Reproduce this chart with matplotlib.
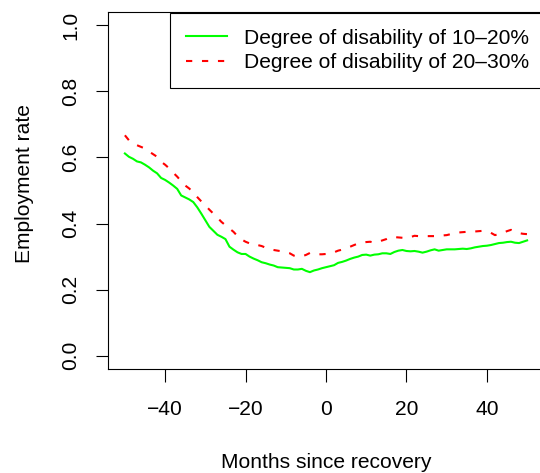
import matplotlib
matplotlib.use("Agg")
import matplotlib.pyplot as plt

plt.rcParams['font.family'] = ['Liberation Sans', 'DejaVu Sans']
plt.rcParams['lines.scale_dashes'] = False

# months since recovery
months = list(range(-50, 51))

# employment rate, degree of disability 10-20%
rate_10_20 = [
    0.612, 0.602, 0.596, 0.588, 0.585, 0.578, 0.570, 0.560, 0.552, 0.538,
    0.532, 0.524, 0.515, 0.505, 0.485, 0.479, 0.473, 0.465, 0.449, 0.430,
    0.410, 0.390, 0.378, 0.366, 0.360, 0.353, 0.330, 0.321, 0.313, 0.308,
    0.308, 0.300, 0.294, 0.289, 0.283, 0.280, 0.276, 0.273, 0.268, 0.267,
    0.266, 0.265, 0.261, 0.261, 0.263, 0.257, 0.253, 0.258, 0.261, 0.265,
    0.268, 0.271, 0.274, 0.281, 0.284, 0.288, 0.293, 0.297, 0.300, 0.305,
    0.306, 0.303, 0.306, 0.307, 0.310, 0.310, 0.308, 0.314, 0.318, 0.320,
    0.317, 0.316, 0.317, 0.315, 0.312, 0.315, 0.319, 0.322, 0.318, 0.320,
    0.322, 0.322, 0.322, 0.323, 0.324, 0.323, 0.325, 0.328, 0.330, 0.332,
    0.333, 0.335, 0.338, 0.341, 0.342, 0.344, 0.345, 0.342, 0.341, 0.345,
    0.349,
]

# employment rate, degree of disability 20-30%
rate_20_30 = [
    0.667, 0.652, 0.645, 0.637, 0.632, 0.627, 0.618, 0.610, 0.602, 0.587,
    0.578, 0.567, 0.554, 0.542, 0.528, 0.515, 0.506, 0.494, 0.480, 0.467,
    0.455, 0.442, 0.430, 0.418, 0.405, 0.395, 0.385, 0.375, 0.362, 0.352,
    0.345, 0.340, 0.335, 0.335, 0.332, 0.327, 0.322, 0.320, 0.318, 0.316,
    0.313, 0.310, 0.303, 0.300, 0.301, 0.305, 0.311, 0.311, 0.307, 0.307,
    0.308, 0.311, 0.313, 0.318, 0.321, 0.325, 0.330, 0.335, 0.340, 0.342,
    0.344, 0.345, 0.342, 0.345, 0.349, 0.353, 0.359, 0.359, 0.358, 0.357,
    0.356, 0.359, 0.363, 0.362, 0.362, 0.362, 0.362, 0.362, 0.362, 0.364,
    0.365, 0.368, 0.370, 0.373, 0.374, 0.375, 0.376, 0.376, 0.377, 0.378,
    0.375, 0.372, 0.365, 0.368, 0.372, 0.377, 0.381, 0.376, 0.371, 0.369,
    0.368,
]

x_ticks = [-40, -20, 0, 20, 40]
x_ticklabels = ['\u221240', '\u221220', '0', '20', '40']
y_ticks = [0.0, 0.2, 0.4, 0.6, 0.8, 1.0]
y_ticklabels = ['0.0', '0.2', '0.4', '0.6', '0.8', '1.0']
labels = ["Degree of disability of 10\u201320%", "Degree of disability of 20\u201330%"]

W, H = 540, 473
fig = plt.figure(figsize=(W / 100, H / 100), dpi=100)
# R style plot region, the right side is cropped off in the original
ax = fig.add_axes([108 / W, 1 - 369 / H, (544 - 108) / W, (369 - 12) / H])

fs = 15.1
ax.plot(months, rate_10_20, color='#00ff00', lw=1.5, label=labels[0])
ax.plot(months, rate_20_30, color='#ff0000', lw=1.5, dashes=(4.5, 7.0),
        dash_capstyle='butt', label=labels[1])

ax.set_xlim(-54.2, 54.2)
ax.set_ylim(-0.04, 1.04)
ax.set_xticks(x_ticks)
ax.set_xticklabels(x_ticklabels)
ax.set_yticks(y_ticks)
ax.set_yticklabels(y_ticklabels, rotation=90, va='center')
ax.tick_params(length=9, width=0.8, labelsize=fs)
ax.tick_params(axis='x', pad=13)
ax.tick_params(axis='y', pad=11)
for s in ax.spines.values():
    s.set_linewidth(0.8)

fig.text(326 / W, 1 - 462 / H, 'Months since recovery', fontsize=fs, ha='center', va='center')
fig.text(25 / W, 1 - 184 / H, 'Employment rate', fontsize=fs, ha='center', va='center', rotation=90)

leg = ax.legend(loc='upper left', bbox_to_anchor=(170 / W, 1 - 13 / H),
                bbox_transform=fig.transFigure, borderaxespad=0, fontsize=fs,
                fancybox=False, edgecolor='black', framealpha=1,
                borderpad=0.75, labelspacing=0.26, handlelength=1.95,
                handletextpad=0.85)
leg.get_frame().set_linewidth(0.8)

fig.savefig('out.png', dpi=100)
